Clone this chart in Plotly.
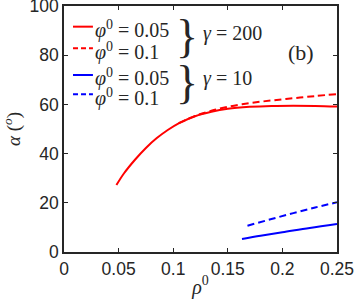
import plotly.graph_objects as go

# Data
rho_r1 = [0.048, 0.055, 0.065, 0.075, 0.085, 0.095, 0.105, 0.12, 0.135, 0.15, 0.17, 0.19, 0.21, 0.23, 0.25]
alpha_r1 = [27.2, 32.0, 37.5, 42.3, 46.3, 49.6, 52.3, 55.2, 57.0, 58.2, 59.0, 59.4, 59.5, 59.4, 59.1]

rho_r2 = [0.105, 0.12, 0.135, 0.15, 0.17, 0.19, 0.21, 0.23, 0.25]
alpha_r2 = [52.4, 55.3, 57.4, 59.0, 60.5, 61.6, 62.5, 63.4, 64.2]

rho_b1 = [0.163, 0.18, 0.2, 0.225, 0.25]
alpha_b1 = [5.3, 6.6, 8.0, 9.8, 11.4]

rho_b2 = [0.168, 0.19, 0.21, 0.23, 0.25]
alpha_b2 = [10.7, 13.4, 15.8, 18.1, 20.2]

x_ticks = [0, 0.05, 0.1, 0.15, 0.2, 0.25]
x_ticklabels = ["0", "0.05", "0.1", "0.15", "0.2", "0.25"]
y_ticks = [0, 20, 40, 60, 80, 100]

legend_labels = ["<i>φ</i><sup>0</sup> = 0.05", "<i>φ</i><sup>0</sup> = 0.1",
                 "<i>φ</i><sup>0</sup> = 0.05", "<i>φ</i><sup>0</sup> = 0.1"]

serif = "Liberation Serif"
sans = "Liberation Sans"
axcol = "#262626"
DASH = "7px,4px"

fig = go.Figure()
series = [
    (rho_r1, alpha_r1, "red", "solid"),
    (rho_r2, alpha_r2, "red", DASH),
    (rho_b1, alpha_b1, "blue", "solid"),
    (rho_b2, alpha_b2, "blue", DASH),
]
for xs, ys, c, d in series:
    fig.add_trace(go.Scatter(x=xs, y=ys, mode="lines", showlegend=False,
                             line=dict(color=c, width=2, dash=d, shape="spline")))

axis_common = dict(showgrid=False, zeroline=False, showline=True, linecolor=axcol,
                   linewidth=1.5, mirror="ticks", ticks="inside", ticklen=4,
                   tickcolor=axcol, tickwidth=1.2, automargin=False,
                   ticklabeloverflow="allow",
                   tickfont=dict(family=sans, size=17.5, color=axcol))

fig.update_layout(
    width=355, height=305,
    margin=dict(l=64, r=18, t=6, b=53),
    plot_bgcolor="white", paper_bgcolor="white",
    showlegend=False,
    xaxis=dict(range=[0, 0.25], tickvals=x_ticks, ticktext=x_ticklabels,
               title=dict(text="<i>ρ</i><sup>0</sup>", standoff=2,
                          font=dict(family=serif, size=20, color=axcol)),
               **axis_common),
    yaxis=dict(range=[0, 100], tickvals=y_ticks,
               title=dict(text="<i>α</i> (<sup><i>o</i></sup>)", standoff=11,
                          font=dict(family=serif, size=19, color=axcol)),
               **axis_common),
)

# Hand-built legend (key lines + labels)
leg_y = [0.916, 0.828, 0.7195, 0.641]
leg_col = ["red", "red", "blue", "blue"]
leg_dash = ["solid", "5px,3px", "solid", "5px,3px"]
for yy, c, d, lab in zip(leg_y, leg_col, leg_dash, legend_labels):
    fig.add_shape(type="line", xref="paper", yref="paper", x0=0.033, x1=0.106, y0=yy, y1=yy,
                  line=dict(color=c, width=2, dash=d))
    fig.add_annotation(xref="paper", yref="paper", x=0.108, y=yy - 0.012, text=lab,
                       showarrow=False, xanchor="left", yanchor="middle",
                       font=dict(family=serif, size=20, color=axcol))

ann = [
    dict(x=0.45, y=0.874, text="}", font=dict(family=serif, size=46, color=axcol), xanchor="center", yanchor="middle"),
    dict(x=0.45, y=0.691, text="}", font=dict(family=serif, size=46, color=axcol), xanchor="center", yanchor="middle"),
    dict(x=0.5, y=0.89, text="<i>γ</i> = 200", font=dict(family=serif, size=20, color=axcol), xanchor="left", yanchor="middle"),
    dict(x=0.5, y=0.705, text="<i>γ</i> = 10", font=dict(family=serif, size=20, color=axcol), xanchor="left", yanchor="middle"),
    dict(x=0.868, y=0.809, text="(b)", font=dict(family=serif, size=22, color=axcol), xanchor="center", yanchor="middle"),
]
for a in ann:
    fig.add_annotation(xref="paper", yref="paper", showarrow=False, **a)

fig.write_html("out.html", config={"displayModeBar": False},
               post_script="document.body.style.margin='0';document.body.style.padding='0';")
